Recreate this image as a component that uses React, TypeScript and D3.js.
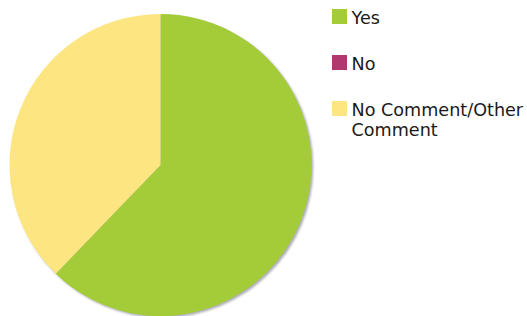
import React from "react";
import * as d3 from "d3";

const categories = ["Yes", "No", "No Comment/Other Comment"];
const values = [62.2, 0, 37.8];
const colors = ["#a4cc39", "#b0386e", "#fde581"];
const legendLines = [["Yes"], ["No"], ["No Comment/Other", "Comment"]];

const W = 527;
const H = 316;
const cx = 160.5;
const cy = 165;
const R = 151;

export default function App() {
  const pie = d3
    .pie<number>()
    .sort(null)
    .startAngle(0)
    .endAngle(2 * Math.PI)(values);
  const arc = d3.arc<d3.PieArcDatum<number>>().innerRadius(0).outerRadius(R);
  const legendY = d3.scalePoint<number>().domain([0, 1, 2]).range([24, 116]);

  return (
    <svg
      width={W}
      height={H}
      style={{ position: "absolute", left: 0, top: 0, background: "#fff" }}
      fontFamily="'DejaVu Sans', Verdana, sans-serif"
    >
      <defs>
        <filter id="sh" x="-10%" y="-10%" width="120%" height="120%">
          <feGaussianBlur stdDeviation="0.8" />
        </filter>
      </defs>
      <circle cx={cx + 1.8} cy={cy + 1.8} r={R} fill="#aeaeb8" filter="url(#sh)" />
      <g transform={`translate(${cx},${cy})`}>
        {pie.map((d, i) =>
          d.value > 0 ? <path key={i} d={arc(d) || ""} fill={colors[i]} /> : null
        )}
      </g>
      {categories.map((c, i) => {
        const by = legendY(i)!;
        return (
          <g key={c}>
            <rect x={332} y={by - 15} width={15} height={15} fill={colors[i]} />
            <text x={351.5} y={by} fontSize={17.6} fill="#1a1a1a">
              {legendLines[i].map((l, j) => (
                <tspan key={j} x={351.5} dy={j === 0 ? 0 : 20}>
                  {l}
                </tspan>
              ))}
            </text>
          </g>
        );
      })}
    </svg>
  );
}
